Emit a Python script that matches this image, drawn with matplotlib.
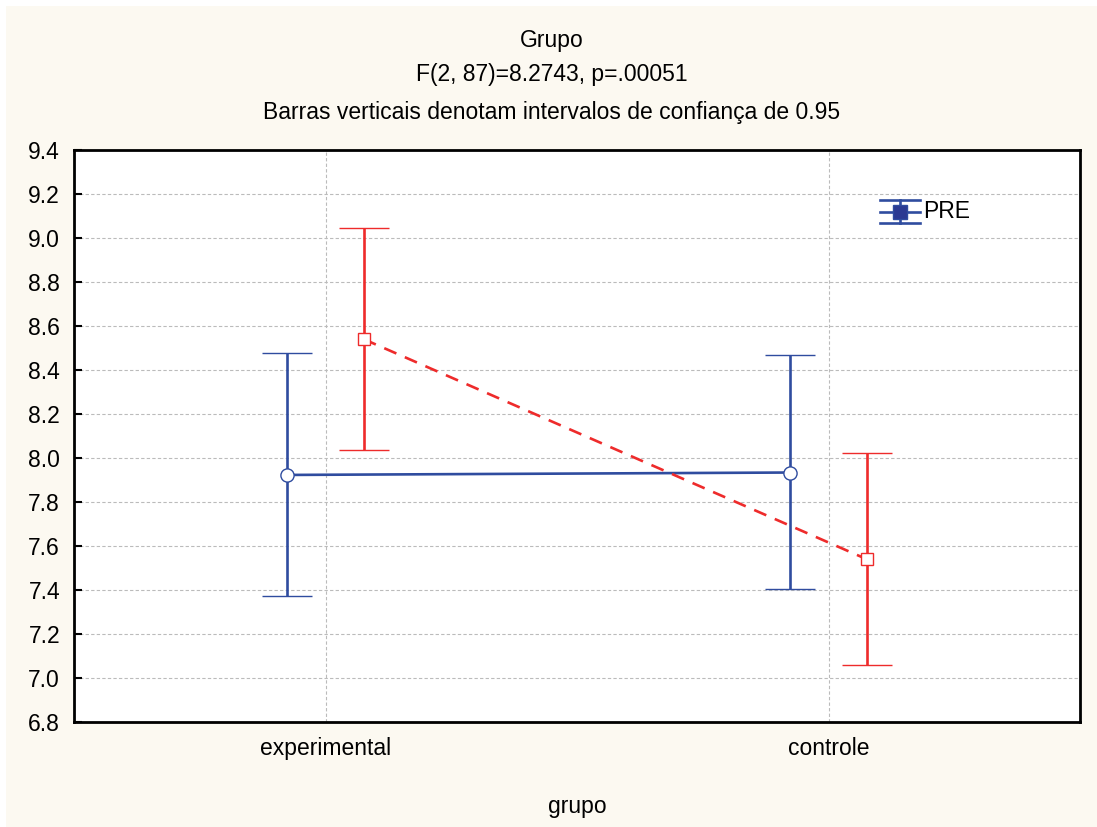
import matplotlib
matplotlib.use("Agg")
import matplotlib.pyplot as plt
from matplotlib.patches import Rectangle
from matplotlib.lines import Line2D

categories = ["experimental", "controle"]
pre_mean = [7.923, 7.934]
pre_low = [7.375, 7.406]
pre_high = [8.479, 8.467]
pos_mean = [8.540, 7.540]
pos_low = [8.036, 7.057]
pos_high = [9.044, 8.022]

title_lines = ["Grupo", "F(2, 87)=8.2743, p=.00051",
               "Barras verticais denotam intervalos de confiança de 0.95"]
legend_label = "PRE"

plt.rcParams['font.family'] = ['Liberation Sans', 'DejaVu Sans']
FS = 16.5
blue = "#2F4C9F"
red = "#EE2B2B"
LW = 1.9

W, H = 1097, 827
fig = plt.figure(figsize=(W/100, H/100), dpi=100)
fig.patch.set_facecolor("white")
fig.add_artist(Rectangle((6/W, 0), 1 - 6/W, 1 - 6/H, transform=fig.transFigure,
                         facecolor="#FCF9F1", edgecolor="none", zorder=-10))

ax = fig.add_axes([74/W, 1 - 722/H, (1080 - 74)/W, (722 - 150)/H])
ax.set_facecolor("white")

x = list(range(len(categories)))
off = 0.076
xb = [v - off for v in x]
xr = [v + off for v in x]

ax.errorbar(xb, pre_mean,
            yerr=[[m - l for m, l in zip(pre_mean, pre_low)], [h - m for h, m in zip(pre_high, pre_mean)]],
            color=blue, lw=LW, elinewidth=LW, capsize=18, capthick=LW + 0.2,
            marker='o', markersize=9.5, markerfacecolor="white", markeredgecolor=blue,
            markeredgewidth=1.0, zorder=3)
ax.errorbar(xr, pos_mean,
            yerr=[[m - l for m, l in zip(pos_mean, pos_low)], [h - m for h, m in zip(pos_high, pos_mean)]],
            color=red, lw=LW, ls=(0, (5, 3.5)), elinewidth=LW, capsize=18, capthick=LW + 0.2,
            marker='s', markersize=9, markerfacecolor="white", markeredgecolor=red,
            markeredgewidth=1.0, zorder=3)

# manual legend (figure pixel coords)
def fx(px):
    return px / W
def fy(py):
    return 1 - py / H
for yy in (200, 212, 223):
    fig.add_artist(Line2D([fx(880), fx(920)], [fy(yy), fy(yy)], color=blue, lw=LW, zorder=5))
fig.add_artist(Line2D([fx(900), fx(900)], [fy(200), fy(223)], color=blue, lw=LW, zorder=5))
fig.add_artist(Line2D([fx(900)], [fy(212)], marker='s', markersize=9.5, color=blue,
                      markerfacecolor="#2B3A92", markeredgecolor=blue, zorder=6))
fig.text(fx(923), fy(212), legend_label, ha="left", va="center", fontsize=FS)

ax.set_xlim(-0.5, 1.5)
ax.set_ylim(6.8, 9.4)
ax.set_xticks(x)
ax.set_xticklabels(categories, fontsize=FS)
yt = [6.8 + 0.2 * i for i in range(14)]
ax.set_yticks(yt)
ax.set_yticklabels([f"{v:.1f}" for v in yt], fontsize=FS)
ax.tick_params(axis='y', direction='in', length=6, width=1.5, pad=10)
ax.tick_params(axis='x', direction='in', length=0, pad=11)
ax.grid(True, color="#BBBBBB", ls=(0, (3, 2)), lw=0.8)
for s in ax.spines.values():
    s.set_linewidth(2)
    s.set_color("black")
ax.set_axisbelow(True)

ax.set_xlabel("grupo", fontsize=FS, labelpad=25)

ys = [40, 74, 113]
for t, y in zip(title_lines, ys):
    fig.text(0.503, fy(y), t, ha="center", va="center", fontsize=FS)

fig.savefig("out.png", dpi=100, facecolor=fig.get_facecolor())
